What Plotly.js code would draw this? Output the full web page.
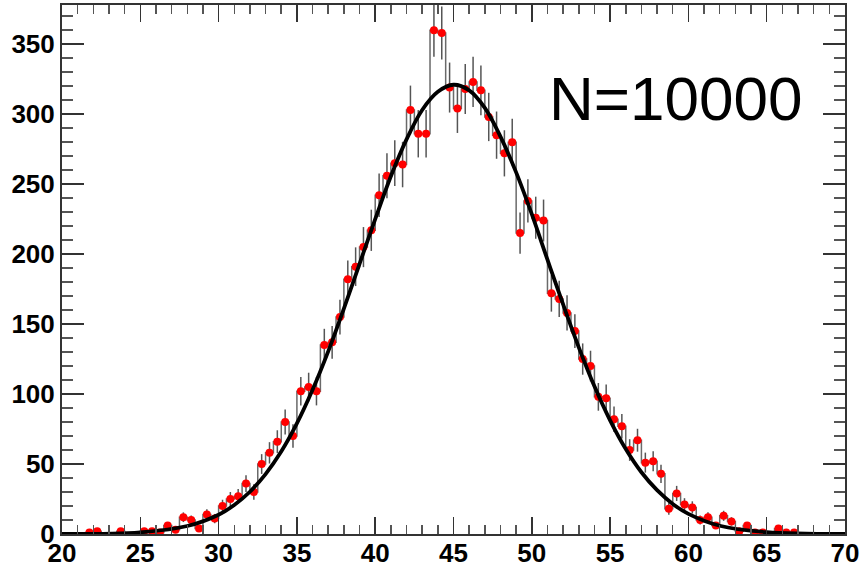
<!DOCTYPE html>
<html>
<head>
<meta charset="utf-8">
<script src="https://cdn.plot.ly/plotly-3.0.1.min.js"></script>
<style>html,body{margin:0;padding:0;background:#fff;}#chart{width:862px;height:569px;}</style>
</head>
<body>
<div id="chart"></div>
<script>
// Bin centres (width 0.5) from 20.25 to 69.75
const binCenters = [
  20.25,20.75,21.25,21.75,22.25,22.75,23.25,23.75,24.25,24.75,
  25.25,25.75,26.25,26.75,27.25,27.75,28.25,28.75,29.25,29.75,
  30.25,30.75,31.25,31.75,32.25,32.75,33.25,33.75,34.25,34.75,
  35.25,35.75,36.25,36.75,37.25,37.75,38.25,38.75,39.25,39.75,
  40.25,40.75,41.25,41.75,42.25,42.75,43.25,43.75,44.25,44.75,
  45.25,45.75,46.25,46.75,47.25,47.75,48.25,48.75,49.25,49.75,
  50.25,50.75,51.25,51.75,52.25,52.75,53.25,53.75,54.25,54.75,
  55.25,55.75,56.25,56.75,57.25,57.75,58.25,58.75,59.25,59.75,
  60.25,60.75,61.25,61.75,62.25,62.75,63.25,63.75,64.25,64.75,
  65.25,65.75,66.25,66.75,67.25,67.75,68.25,68.75,69.25,69.75
];
const counts = [
  0,0,0,1,2,0,0,2,0,0,
  2,2,1,6,3,12,10,4,14,11,
  20,25,27,36,30,50,58,66,80,70,
  102,105,102,135,137,155,182,191,205,217,
  242,256,265,264,303,286,286,360,358,319,
  304,318,323,317,298,285,272,280,215,238,
  226,224,172,168,158,145,125,120,98,97,
  82,77,60,67,51,52,43,18,29,21,
  19,10,12,6,13,9,2,6,1,1,
  0,4,1,1,0,0,0,0,0,0
];
// Fit curve
const fitX = [20,25,28,30,31,32,33,34,35,36,37,38,39,40,41,42,43,44,45,46,47,48,49,50,51,52,53,54,55,56,57,58,59,60,62,65,70];
const fitY = [0.05,1.2,5.7,13.8,20.7,30.2,42.8,58.9,79,103,130.5,161,193,225,255.6,282,303,316,321,317,304.5,284,258.4,228.5,196,164,133.4,105.5,81.2,60.7,44.1,31.3,21.5,14.4,5.9,1.3,0.05];
const labelText = "N=10000";

const ptsX = [], ptsY = [], ptsErr = [];
for (let i = 0; i < binCenters.length; i++) {
  if (counts[i] > 0) { ptsX.push(binCenters[i]); ptsY.push(counts[i]); ptsErr.push(Math.sqrt(counts[i])); }
}

const traces = [
  {x: binCenters, y: counts, type: 'scatter', mode: 'lines',
   line: {shape: 'hvh', color: '#6a6a6a', width: 1.5}, hoverinfo: 'skip'},
  {x: ptsX, y: ptsY, type: 'scatter', mode: 'markers',
   marker: {color: '#ff0000', size: 8},
   error_y: {type: 'data', array: ptsErr, visible: true, color: '#555', thickness: 1.5, width: 0}},
  {x: fitX, y: fitY, type: 'scatter', mode: 'lines',
   line: {shape: 'spline', smoothing: 1, color: '#000', width: 3.8}}
];

const axFont = {family: 'Liberation Sans, Arial, sans-serif', size: 26, color: '#000', weight: 'bold'};
const layout = {
  width: 862, height: 569,
  margin: {l: 62, r: 17, t: 5, b: 35},
  paper_bgcolor: '#fff', plot_bgcolor: '#fff',
  showlegend: false,
  xaxis: {range: [20, 70], tick0: 20, dtick: 5, ticks: 'inside', ticklen: 17, tickwidth: 1.5, tickcolor: '#333',
          showline: true, linecolor: '#333', linewidth: 2, mirror: 'allticks', showgrid: false, zeroline: false,
          tickfont: axFont, ticklabelstandoff: -5,
          minor: {dtick: 1, ticks: 'inside', ticklen: 9, tickwidth: 1.5, tickcolor: '#555', showgrid: false}},
  yaxis: {range: [0, 378], tick0: 0, dtick: 50, ticks: 'inside', ticklen: 22, tickwidth: 1.5, tickcolor: '#333',
          showline: true, linecolor: '#333', linewidth: 2, mirror: 'allticks', showgrid: false, zeroline: false,
          tickfont: axFont, ticklabelstandoff: 0,
          minor: {dtick: 10, ticks: 'inside', ticklen: 11, tickwidth: 1.5, tickcolor: '#555', showgrid: false}},
  annotations: [{text: labelText, xref: 'paper', yref: 'paper', x: 0.783, y: 0.824, xanchor: 'center', yanchor: 'middle',
                 showarrow: false, font: {family: 'Liberation Sans, Arial, sans-serif', size: 62, color: '#000'}}]
};
Plotly.newPlot('chart', traces, layout, {displayModeBar: false, staticPlot: true});
</script>
</body>
</html>
